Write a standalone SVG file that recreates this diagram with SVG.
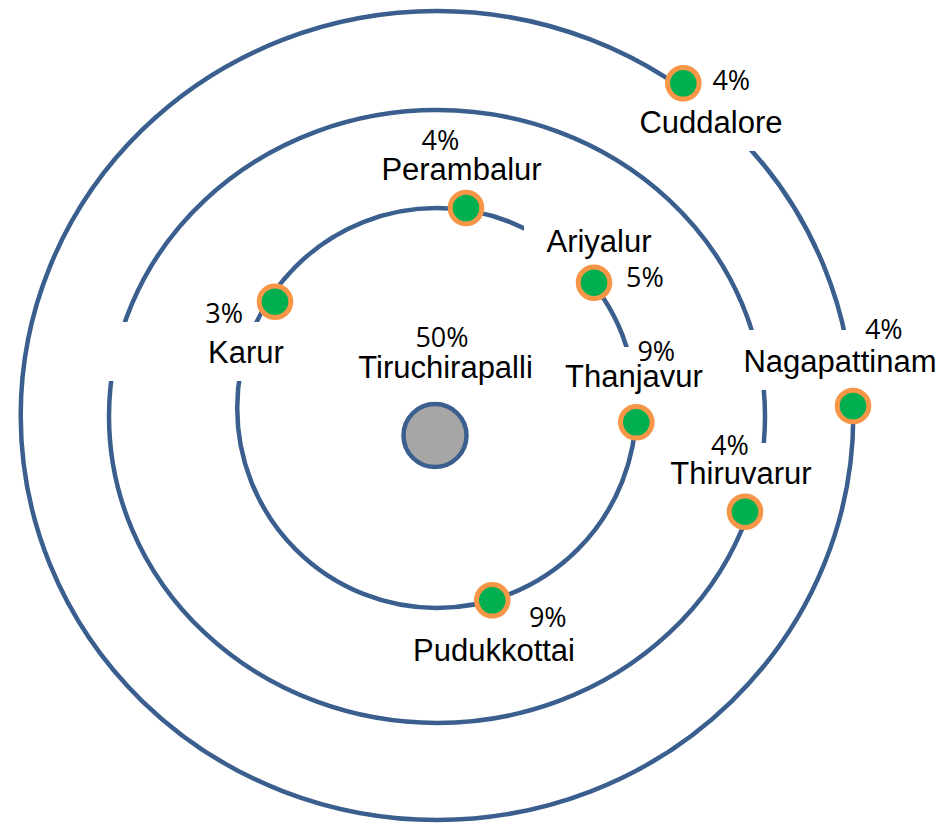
<svg xmlns="http://www.w3.org/2000/svg" width="950" height="823" viewBox="0 0 950 823">
  <style>
    .orbit { fill: none; stroke: #3a5f8e; stroke-width: 4.5; }
    .dot { fill: #00b050; stroke: #f79646; stroke-width: 5; }
    .center { fill: #a6a6a6; stroke: #3a5f8e; stroke-width: 4.5; }
    .name { font-family: "Liberation Sans", Arial, sans-serif; font-size: 31px; fill: #000; text-anchor: middle; }
    .pct { font-family: "Open Sans", "DejaVu Sans", sans-serif; font-size: 27px; fill: #000; text-anchor: middle; }
  </style>
  <defs>
    <mask id="gaps" maskUnits="userSpaceOnUse" x="0" y="0" width="950" height="823">
      <rect x="0" y="0" width="950" height="823" fill="#fff"/>
      <rect x="95" y="322" width="205" height="59" fill="#000"/>
      <rect x="630" y="90" width="165" height="61" fill="#000"/>
      <rect x="735" y="330" width="210" height="60" fill="#000"/>
      <rect x="660" y="443" width="155" height="58" fill="#000"/>
      <rect x="524" y="222" width="141" height="50" fill="#000"/>
      <rect x="555" y="347" width="157" height="60" fill="#000"/>
    </mask>
  </defs>
  <rect width="950" height="823" fill="#fff"/>
  <g id="orbits" mask="url(#gaps)">
    <ellipse class="orbit" cx="437" cy="415.5" rx="416.3" ry="404.5"/>
    <ellipse class="orbit" cx="437" cy="416.5" rx="328" ry="306.5"/>
    <ellipse class="orbit" cx="436.7" cy="408" rx="199.5" ry="200"/>
  </g>
  <g id="tiruchirapalli">
    <circle class="center" cx="435" cy="435.5" r="31.5"/>
    <text class="pct" x="442" y="346.5">50%</text>
    <text class="name" x="445.5" y="378.3">Tiruchirapalli</text>
  </g>
  <g id="perambalur">
    <circle class="dot" cx="466" cy="208" r="15.8"/>
    <text class="pct" x="440.5" y="149.5">4%</text>
    <text class="name" x="461.5" y="180">Perambalur</text>
  </g>
  <g id="karur">
    <circle class="dot" cx="275" cy="301.7" r="15.8"/>
    <text class="pct" x="224.2" y="322.5">3%</text>
    <text class="name" x="246" y="362.7">Karur</text>
  </g>
  <g id="ariyalur">
    <circle class="dot" cx="594" cy="282.7" r="15.8"/>
    <text class="name" x="599" y="252.3">Ariyalur</text>
    <text class="pct" x="645" y="287">5%</text>
  </g>
  <g id="thanjavur">
    <circle class="dot" cx="636.3" cy="422.3" r="15.8"/>
    <text class="pct" x="656.3" y="360.5">9%</text>
    <text class="name" x="634" y="387.3">Thanjavur</text>
  </g>
  <g id="pudukkottai">
    <circle class="dot" cx="492.3" cy="600.3" r="15.8"/>
    <text class="pct" x="547.8" y="626.5">9%</text>
    <text class="name" x="494" y="660.7">Pudukkottai</text>
  </g>
  <g id="cuddalore">
    <circle class="dot" cx="683.3" cy="83.3" r="15.8"/>
    <text class="pct" x="731.3" y="90">4%</text>
    <text class="name" x="711" y="132.5">Cuddalore</text>
  </g>
  <g id="nagapattinam">
    <circle class="dot" cx="853" cy="406" r="15.8"/>
    <text class="pct" x="883.8" y="338.5">4%</text>
    <text class="name" x="840" y="371.7">Nagapattinam</text>
  </g>
  <g id="thiruvarur">
    <circle class="dot" cx="745" cy="511.7" r="15.8"/>
    <text class="pct" x="730" y="455">4%</text>
    <text class="name" x="741" y="484">Thiruvarur</text>
  </g>
</svg>
